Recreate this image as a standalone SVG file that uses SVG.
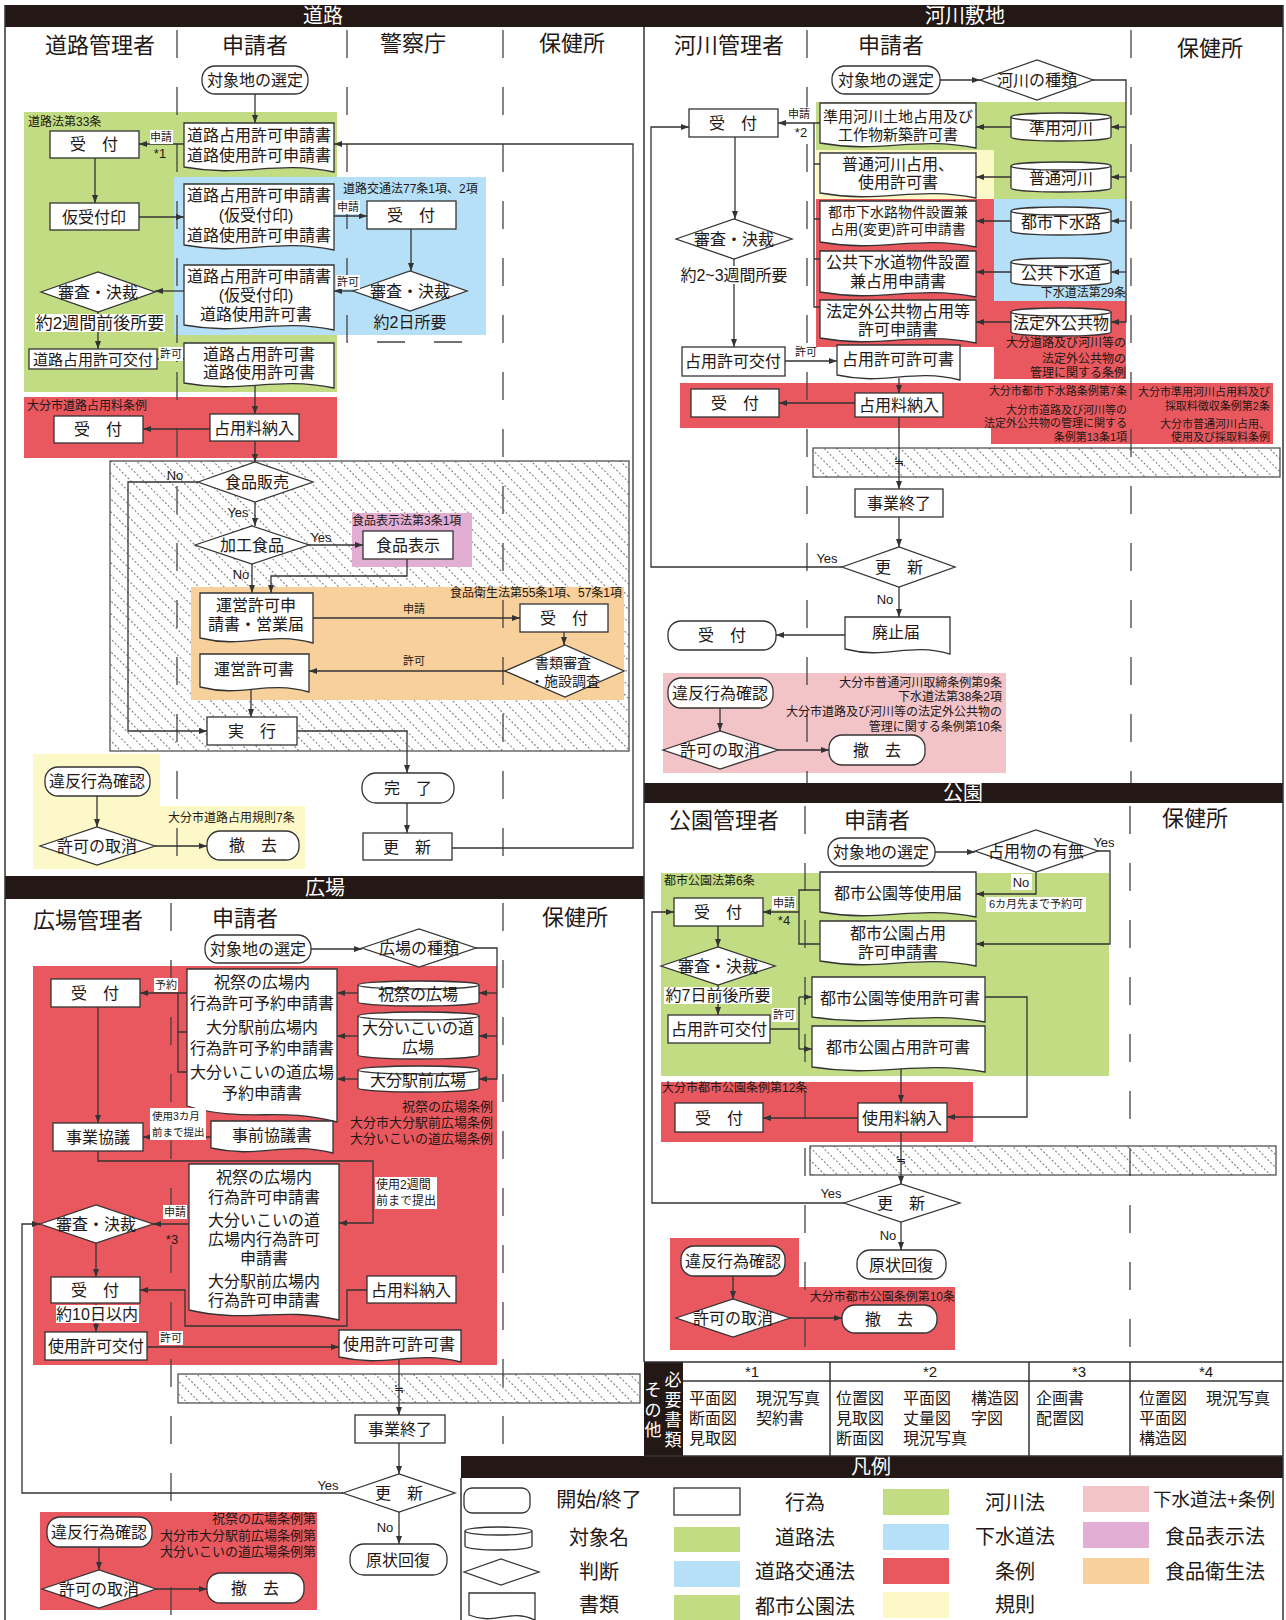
<svg xmlns="http://www.w3.org/2000/svg" width="1286" height="1620" viewBox="0 0 1286 1620">
<defs>
<style>
text{font-family:"Liberation Sans","Noto Sans CJK JP","Noto Sans CJK SC",sans-serif;fill:#231815;text-anchor:middle;dominant-baseline:central}
.t{font-size:16px}
.t17{font-size:17px}
.t15{font-size:15px}
.t14{font-size:14px}
.hd{font-size:22px}
.sec{font-size:20px;fill:#fff}
.lg{font-size:20px}
.lg19{font-size:18.5px}
.law{font-size:12px}
.l13{font-size:13px}
.sm{font-size:11px}
.xs{font-size:10.5px}
.yn{font-size:13px}
.st{text-anchor:start}
.en{text-anchor:end}
.c{fill:none;stroke:#333;stroke-width:1.3}
.a{marker-end:url(#ah)}
.n{fill:#fff;stroke:#333;stroke-width:1.3}
.dl{fill:none;stroke:#444;stroke-width:1.3;stroke-dasharray:28 29}
.fr{fill:none;stroke:#333;stroke-width:1.5}
.bk{fill:#231815}
.g{fill:#c1dc82}.b{fill:#b6e0f7}.r{fill:#e8585e}.y{fill:#fdf8c8}.p{fill:#f2c3c7}.v{fill:#e2aed3}.o{fill:#f8d09c}
.h{fill:url(#hatch);stroke:#444;stroke-width:1.2}
.wb{fill:#fff}
.vt{font-size:17px;fill:#fff}
</style>
<marker id="ah" viewBox="0 0 8 6" refX="8" refY="3" markerWidth="8" markerHeight="6" markerUnits="userSpaceOnUse" orient="auto"><path d="M0,0L8,3L0,6Z" fill="#333"/></marker>
<pattern id="hatch" patternUnits="userSpaceOnUse" width="9" height="8" patternTransform="rotate(-45)"><line x1="4.5" y1="0" x2="4.5" y2="8" stroke="#666" stroke-width="0.9" stroke-dasharray="2 2"/></pattern>
</defs>
<rect width="1286" height="1620" fill="#fff"/>

<!-- backgrounds -->
<g id="backgrounds">
<rect class="g" x="24" y="112" width="313" height="280"/>
<rect class="b" x="174" y="177" width="312" height="158"/>
<rect class="r" x="24" y="397" width="313" height="61"/>
<rect class="h" x="110" y="461" width="519" height="290"/>
<rect class="v" x="352" y="513" width="120" height="54"/>
<rect class="o" x="191" y="587" width="433" height="113"/>
<path class="y" d="M33,754H160V806H305V869H33Z"/>
<rect class="r" x="33" y="966" width="464" height="399"/>
<rect class="h" x="178" y="1374" width="462" height="29"/>
<rect class="r" x="40" y="1512" width="277" height="98"/>
<path class="g" d="M816,102H1126V199H994V150H816Z"/>
<rect class="y" x="816" y="150" width="178" height="49"/>
<rect class="b" x="994" y="199" width="132" height="102"/>
<path class="r" d="M816,199H994V301H1126V379H994V347H816Z"/>
<path class="r" d="M680,383H1273V444H991V428H680Z"/>
<rect class="h" x="813" y="448" width="467" height="29"/>
<rect class="p" x="663" y="673" width="343" height="100"/>
<rect class="g" x="661" y="873" width="448" height="203"/>
<rect class="r" x="661" y="1082" width="312" height="60"/>
<rect class="h" x="810" y="1146" width="466" height="29"/>
<path class="r" d="M670,1238H799V1287H955V1350H670Z"/>
</g>

<!-- frame -->
<g id="frame">
<rect class="bk" x="5" y="5" width="1278" height="22"/>
<rect class="bk" x="5" y="876" width="639" height="23"/>
<rect class="bk" x="644" y="783" width="639" height="20"/>
<rect class="bk" x="461" y="1456" width="822" height="22"/>
<rect class="bk" x="644" y="1362" width="39" height="94"/>
<path class="fr" d="M5,5V1620M1283,5V1620M644,27V1362M644,1362H1283M683,1381H1283M644,1456H1283M830,1362V1456M1029,1362V1456M1130,1362V1456M461,1478V1620"/>
<text class="sec" x="323" y="16">道路</text>
<text class="sec" x="965" y="16">河川敷地</text>
<text class="sec" x="325" y="888">広場</text>
<text class="sec" x="963" y="793">公園</text>
<text class="sec" x="871" y="1467">凡例</text>
<path class="dl" d="M177,30V876M347,30V342H487M503,30V876"/>
<path class="dl" d="M171,903V1620M503,903V1456"/>
<path class="dl" d="M807,30V783M1131,30V783"/>
<path class="dl" d="M805,806V1362M1130,806V1362"/>
</g>

<!-- lane headers and law labels -->
<g id="labels">
<text class="hd" x="100" y="45">道路管理者</text>
<text class="hd" x="255" y="45">申請者</text>
<text class="hd" x="413" y="43">警察庁</text>
<text class="hd" x="572" y="43">保健所</text>
<text class="hd" x="729" y="45">河川管理者</text>
<text class="hd" x="891" y="45">申請者</text>
<text class="hd" x="1210" y="48">保健所</text>
<text class="hd" x="88" y="920">広場管理者</text>
<text class="hd" x="245" y="918">申請者</text>
<text class="hd" x="575" y="917">保健所</text>
<text class="hd" x="724" y="820">公園管理者</text>
<text class="hd" x="877" y="820">申請者</text>
<text class="hd" x="1195" y="818">保健所</text>

<text class="law st" x="28" y="122">道路法第33条</text>
<text class="law st" x="343" y="189">道路交通法77条1項、2項</text>
<text class="law st" x="27" y="406">大分市道路占用料条例</text>
<text class="law st" x="352" y="521">食品表示法第3条1項</text>
<text class="law en" x="622" y="593">食品衛生法第55条1項、57条1項</text>
<text class="law st" x="168" y="818">大分市道路占用規則7条</text>

<text class="l13 en" x="493" y="1106">祝祭の広場条例</text>
<text class="l13 en" x="493" y="1122">大分市大分駅前広場条例</text>
<text class="l13 en" x="493" y="1138">大分いこいの道広場条例</text>
<text class="l13 en" x="316" y="1518">祝祭の広場条例第</text>
<text class="l13 en" x="316" y="1535">大分市大分駅前広場条例第</text>
<text class="l13 en" x="316" y="1551">大分いこいの道広場条例第</text>

<text class="law en" x="1126" y="293">下水道法第29条</text>
<text class="law en" x="1126" y="343">大分道路及び河川等の</text>
<text class="law en" x="1126" y="359">法定外公共物の</text>
<text class="law en" x="1126" y="373">管理に関する条例</text>
<text class="sm en" x="1127" y="391">大分市都市下水路条例第7条</text>
<text class="sm en" x="1127" y="410">大分市道路及び河川等の</text>
<text class="sm en" x="1127" y="423">法定外公共物の管理に関する</text>
<text class="sm en" x="1127" y="437">条例第13条1項</text>
<text class="sm en" x="1270" y="392">大分市準用河川占用料及び</text>
<text class="sm en" x="1270" y="406">採取料徴収条例第2条</text>
<text class="sm en" x="1270" y="424">大分市普通河川占用、</text>
<text class="sm en" x="1270" y="437">使用及び採取料条例</text>
<text class="law en" x="1002" y="683">大分市普通河川取締条例第9条</text>
<text class="law en" x="1002" y="697">下水道法第38条2項</text>
<text class="law en" x="1002" y="712">大分市道路及び河川等の法定外公共物の</text>
<text class="law en" x="1002" y="727">管理に関する条例第10条</text>

<text class="law st" x="664" y="881">都市公園法第6条</text>
<text class="law st" x="662" y="1088">大分市都市公園条例第12条</text>
<text class="law en" x="955" y="1297">大分市都市公園条例第10条</text>
</g>

<!-- connectors -->
<g id="connectors">
<path class="c a" d="M255,94V123"/>
<path class="c a" d="M184,144H139"/>
<path class="c a" d="M452,848H633V144H334"/>
<path class="c a" d="M95,158V203"/>
<path class="c a" d="M139,217H184"/>
<path class="c a" d="M334,216H367"/>
<path class="c a" d="M411,229V271"/>
<path class="c a" d="M353,291H334"/>
<path class="c a" d="M184,291H155"/>
<path class="c a" d="M98,312V349"/>
<path class="c a" d="M157,359H184"/>
<path class="c a" d="M255,385V414"/>
<path class="c a" d="M210,429H143"/>
<path class="c a" d="M255,441V462"/>
<path class="c a" d="M198,482H128V731H207"/>
<path class="c a" d="M255,502V526"/>
<path class="c a" d="M309,545H363"/>
<path class="c a" d="M252,564V593"/>
<path class="c a" d="M407,559V576H271V593"/>
<path class="c a" d="M313,618H520"/>
<path class="c a" d="M564,632V645"/>
<path class="c a" d="M505,671H309"/>
<path class="c a" d="M251,689V717"/>
<path class="c a" d="M297,731H407V773"/>
<path class="c a" d="M407,803V833"/>
<path class="c a" d="M97,796V827"/>
<path class="c a" d="M155,846H207"/>

<path class="c a" d="M311,949H362"/>
<path class="c a" d="M476,948H497V1079H479"/>
<path class="c a" d="M497,993H479"/>
<path class="c a" d="M497,1036H479"/>
<path class="c a" d="M358,993H337"/>
<path class="c a" d="M358,1036H337"/>
<path class="c a" d="M358,1079H337"/>
<path class="c a" d="M187,993H140"/>
<path class="c" d="M178,993V1072H187M178,1032H187"/>
<path class="c a" d="M98,1007V1123"/>
<path class="c a" d="M211,1137H143"/>
<path class="c a" d="M98,1151V1161H373V1223H339"/>
<path class="c a" d="M189,1224H153"/>
<path class="c a" d="M96,1243V1277"/>
<path class="c a" d="M367,1290H347V1326H185V1290H140"/>
<path class="c a" d="M96,1303V1332"/>
<path class="c a" d="M147,1347H339"/>
<path class="c a" d="M399,1358V1415"/>
<path class="c a" d="M399,1443V1474"/>
<path class="c a" d="M343,1493H22V1224H40"/>
<path class="c a" d="M399,1512V1544"/>
<path class="c a" d="M99,1547V1570"/>
<path class="c a" d="M156,1589H207"/>

<path class="c a" d="M940,80H980"/>
<path class="c a" d="M1093,80H1126V322H1111"/>
<path class="c a" d="M1126,127H1111"/>
<path class="c a" d="M1126,177H1111"/>
<path class="c a" d="M1126,221H1111"/>
<path class="c a" d="M1126,272H1111"/>
<path class="c a" d="M1011,127H976"/>
<path class="c a" d="M1011,177H976"/>
<path class="c a" d="M1011,221H976"/>
<path class="c a" d="M1011,272H976"/>
<path class="c a" d="M1011,322H976"/>
<path class="c a" d="M820,123H778"/>
<path class="c" d="M814,123V307H820M814,164H820M814,219H820M814,259H820"/>
<path class="c a" d="M735,137V219"/>
<path class="c a" d="M734,259V347"/>
<path class="c a" d="M785,361H837"/>
<path class="c a" d="M899,378V393"/>
<path class="c a" d="M855,403H779"/>
<path class="c a" d="M899,417V489"/>
<path class="c a" d="M899,517V547"/>
<path class="c a" d="M842,567H651V127H689"/>
<path class="c a" d="M899,587V617"/>
<path class="c a" d="M845,635H776"/>
<path class="c a" d="M720,708V731"/>
<path class="c a" d="M778,750H829"/>

<path class="c a" d="M935,852H975"/>
<path class="c a" d="M1098,851H1110V944H976"/>
<path class="c a" d="M1036,872V894H976"/>
<path class="c" d="M820,890H799V944H820"/>
<path class="c a" d="M799,912H763"/>
<path class="c a" d="M718,926V947"/>
<path class="c a" d="M718,985V1015"/>
<path class="c" d="M770,1029H799M799,997V1049"/>
<path class="c a" d="M799,997H812"/>
<path class="c a" d="M799,1049H812"/>
<path class="c a" d="M985,997H1027V1117H947"/>
<path class="c a" d="M901,1068V1103"/>
<path class="c a" d="M858,1118H763"/>
<path class="c a" d="M901,1132V1184"/>
<path class="c a" d="M844,1203H652V912H674"/>
<path class="c a" d="M901,1222V1250"/>
<path class="c a" d="M733,1276V1299"/>
<path class="c a" d="M790,1318H842"/>
</g>

<!-- 道路 nodes -->
<g id="r-start"><rect class="n" x="202" y="66" width="106" height="28" rx="13"/><text class="t" x="255" y="80">対象地の選定</text></g>
<g id="r-doc1"><path class="n" d="M184,123H334V172C274,160 244,178 184,167Z"/><text class="t" x="259" y="135">道路占用許可申請書</text><text class="t" x="259" y="155">道路使用許可申請書</text></g>
<g id="r-uketsuke1"><rect class="n" x="50" y="131" width="89" height="27"/><text class="t" x="94" y="144">受　付</text></g>
<g id="r-karistamp"><rect class="n" x="50" y="203" width="89" height="27"/><text class="t" x="94" y="217">仮受付印</text></g>
<g id="r-doc2"><path class="n" d="M184,184H334V250C274,238 244,256 184,245Z"/><text class="t" x="259" y="195">道路占用許可申請書</text><text class="t" x="256" y="215">(仮受付印)</text><text class="t" x="259" y="235">道路使用許可申請書</text></g>
<g id="r-police-uketsuke"><rect class="n" x="367" y="201" width="89" height="28"/><text class="t" x="411" y="215">受　付</text></g>
<g id="r-police-decision"><polygon class="n" points="353,291 410,271 467,291 410,311"/><text class="t" x="410" y="291">審査・決裁</text><text class="t" x="410" y="322">約2日所要</text></g>
<g id="r-doc3"><path class="n" d="M184,265H334V330C274,318 244,336 184,325Z"/><text class="t" x="259" y="276">道路占用許可申請書</text><text class="t" x="256" y="295">(仮受付印)</text><text class="t" x="256" y="314">道路使用許可書</text></g>
<g id="r-decision"><polygon class="n" points="41,292 98,272 155,292 98,312"/><text class="t" x="98" y="292">審査・決裁</text></g>
<g id="r-issue"><rect class="n" x="29" y="349" width="128" height="20"/><text class="t15" x="93" y="359">道路占用許可交付</text></g>
<g id="r-doc4"><path class="n" d="M184,343H334V388C274,376 244,394 184,383Z"/><text class="t" x="259" y="354">道路占用許可書</text><text class="t" x="259" y="372">道路使用許可書</text></g>
<g id="r-uketsuke2"><rect class="n" x="54" y="416" width="89" height="27"/><text class="t" x="98" y="429">受　付</text></g>
<g id="r-fee"><rect class="n" x="210" y="414" width="89" height="27"/><text class="t" x="254" y="428">占用料納入</text></g>
<g id="r-foodsale"><polygon class="n" points="198,482 255,462 313,482 255,502"/><text class="t" x="257" y="482">食品販売</text></g>
<g id="r-processed"><polygon class="n" points="195,545 252,526 309,545 252,564"/><text class="t" x="252" y="545">加工食品</text></g>
<g id="r-foodlabel"><rect class="n" x="363" y="531" width="90" height="28"/><text class="t" x="408" y="545">食品表示</text></g>
<g id="r-doc5"><path class="n" d="M200,593H313V643C268,631 245,649 200,638Z"/><text class="t" x="256" y="605">運営許可申</text><text class="t" x="256" y="624">請書・営業届</text></g>
<g id="r-health-uketsuke"><rect class="n" x="520" y="604" width="88" height="28"/><text class="t" x="564" y="618">受　付</text></g>
<g id="r-inspect"><polygon class="n" points="505,671 565,645 624,671 565,697"/><text class="t14" x="563" y="663">書類審査</text><text class="t14" x="565" y="681">・施設調査</text></g>
<g id="r-doc6"><path class="n" d="M200,654H309V692C265,680 244,698 200,687Z"/><text class="t" x="254" y="669">運営許可書</text></g>
<g id="r-exec"><rect class="n" x="207" y="717" width="90" height="28"/><text class="t" x="252" y="731">実　行</text></g>
<g id="r-done"><rect class="n" x="362" y="773" width="92" height="30" rx="14"/><text class="t" x="408" y="788">完　了</text></g>
<g id="r-renew"><rect class="n" x="363" y="833" width="89" height="27"/><text class="t" x="407" y="847">更　新</text></g>
<g id="r-violation"><rect class="n" x="45" y="767" width="105" height="29" rx="13"/><text class="t" x="97" y="781">違反行為確認</text></g>
<g id="r-cancel"><polygon class="n" points="40,846 97,827 155,846 97,865"/><text class="t" x="97" y="846">許可の取消</text></g>
<g id="r-remove"><rect class="n" x="207" y="831" width="92" height="29" rx="13"/><text class="t" x="253" y="845">撤　去</text></g>

<!-- 広場 nodes -->
<g id="s-start"><rect class="n" x="205" y="935" width="106" height="28" rx="13"/><text class="t" x="258" y="949">対象地の選定</text></g>
<g id="s-kind"><polygon class="n" points="362,948 419,929 476,948 419,967"/><text class="t" x="419" y="948">広場の種類</text></g>
<g id="s-cyl1"><path class="n" d="M358,985A60.5,4 0 0 1 479,985V1002A60.5,4 0 0 1 358,1002Z"/><path class="c" d="M358,985A60.5,4 0 0 0 479,985"/><text class="t" x="418" y="994">祝祭の広場</text></g>
<g id="s-cyl2"><path class="n" d="M358,1016A60.5,4 0 0 1 479,1016V1055A60.5,4 0 0 1 358,1055Z"/><path class="c" d="M358,1016A60.5,4 0 0 0 479,1016"/><text class="t" x="418" y="1028">大分いこいの道</text><text class="t" x="418" y="1047">広場</text></g>
<g id="s-cyl3"><path class="n" d="M358,1070A60.5,4 0 0 1 479,1070V1088A60.5,4 0 0 1 358,1088Z"/><path class="c" d="M358,1070A60.5,4 0 0 0 479,1070"/><text class="t" x="418" y="1080">大分駅前広場</text></g>
<g id="s-doc-reserve"><path class="n" d="M187,969H337V1122C277,1106 247,1124 187,1106Z"/><text class="t" x="262" y="982">祝祭の広場内</text><text class="t" x="262" y="1003">行為許可予約申請書</text><text class="t" x="262" y="1027">大分駅前広場内</text><text class="t" x="262" y="1048">行為許可予約申請書</text><text class="t" x="262" y="1072">大分いこいの道広場</text><text class="t" x="262" y="1093">予約申請書</text></g>
<g id="s-uketsuke1"><rect class="n" x="51" y="979" width="89" height="28"/><text class="t" x="95" y="993">受　付</text></g>
<g id="s-consult"><rect class="n" x="53" y="1123" width="90" height="28"/><text class="t" x="98" y="1137">事業協議</text></g>
<g id="s-doc-consult"><path class="n" d="M211,1121H333V1153C284,1141 260,1159 211,1148Z"/><text class="t" x="272" y="1135">事前協議書</text></g>
<g id="s-doc-apply"><path class="n" d="M189,1164H339V1320C279,1306 249,1324 189,1310Z"/><text class="t" x="264" y="1177">祝祭の広場内</text><text class="t" x="264" y="1197">行為許可申請書</text><text class="t" x="264" y="1220">大分いこいの道</text><text class="t" x="264" y="1239">広場内行為許可</text><text class="t" x="264" y="1258">申請書</text><text class="t" x="264" y="1281">大分駅前広場内</text><text class="t" x="264" y="1300">行為許可申請書</text></g>
<g id="s-decision"><polygon class="n" points="40,1224 96,1205 153,1224 96,1243"/><text class="t" x="96" y="1224">審査・決裁</text></g>
<g id="s-uketsuke2"><rect class="n" x="51" y="1277" width="89" height="26"/><text class="t" x="95" y="1290">受　付</text></g>
<g id="s-fee"><rect class="n" x="367" y="1276" width="89" height="27"/><text class="t" x="411" y="1290">占用料納入</text></g>
<g id="s-issue"><rect class="n" x="45" y="1332" width="102" height="28"/><text class="t" x="96" y="1346">使用許可交付</text></g>
<g id="s-doc-permit"><path class="n" d="M339,1330H461V1362C412,1350 388,1368 339,1357Z"/><text class="t" x="399" y="1344">使用許可許可書</text></g>
<g id="s-end"><rect class="n" x="355" y="1415" width="90" height="28"/><text class="t" x="400" y="1429">事業終了</text></g>
<g id="s-renew"><polygon class="n" points="343,1493 399,1474 455,1493 399,1512"/><text class="t" x="399" y="1493">更　新</text></g>
<g id="s-restore"><rect class="n" x="350" y="1544" width="97" height="31" rx="14"/><text class="t" x="398" y="1560">原状回復</text></g>
<g id="s-violation"><rect class="n" x="47" y="1517" width="105" height="30" rx="13"/><text class="t" x="99" y="1532">違反行為確認</text></g>
<g id="s-cancel"><polygon class="n" points="42,1589 99,1570 156,1589 99,1608"/><text class="t" x="99" y="1589">許可の取消</text></g>
<g id="s-remove"><rect class="n" x="207" y="1573" width="97" height="30" rx="13"/><text class="t" x="255" y="1588">撤　去</text></g>

<!-- 河川 nodes -->
<g id="k-start"><rect class="n" x="832" y="66" width="108" height="28" rx="13"/><text class="t" x="886" y="80">対象地の選定</text></g>
<g id="k-kind"><polygon class="n" points="980,80 1037,60 1093,80 1037,100"/><text class="t" x="1037" y="80">河川の種類</text></g>
<g id="k-cyl1"><path class="n" d="M1011,117A50,4 0 0 1 1111,117V137A50,4 0 0 1 1011,137Z"/><path class="c" d="M1011,117A50,4 0 0 0 1111,117"/><text class="t" x="1061" y="128">準用河川</text></g>
<g id="k-cyl2"><path class="n" d="M1011,166A50,4 0 0 1 1111,166V188A50,4 0 0 1 1011,188Z"/><path class="c" d="M1011,166A50,4 0 0 0 1111,166"/><text class="t" x="1061" y="178">普通河川</text></g>
<g id="k-cyl3"><path class="n" d="M1011,211A50,4 0 0 1 1111,211V231A50,4 0 0 1 1011,231Z"/><path class="c" d="M1011,211A50,4 0 0 0 1111,211"/><text class="t" x="1061" y="222">都市下水路</text></g>
<g id="k-cyl4"><path class="n" d="M1011,262A50,4 0 0 1 1111,262V282A50,4 0 0 1 1011,282Z"/><path class="c" d="M1011,262A50,4 0 0 0 1111,262"/><text class="t" x="1061" y="273">公共下水道</text></g>
<g id="k-cyl5"><path class="n" d="M1011,312A50,4 0 0 1 1111,312V332A50,4 0 0 1 1011,332Z"/><path class="c" d="M1011,312A50,4 0 0 0 1111,312"/><text class="t" x="1061" y="323">法定外公共物</text></g>
<g id="k-doc1"><path class="n" d="M820,103H976V148C914,136 882,154 820,143Z"/><text class="t15" x="898" y="116">準用河川土地占用及び</text><text class="t15" x="898" y="134">工作物新築許可書</text></g>
<g id="k-doc2"><path class="n" d="M820,153H976V198C914,186 882,204 820,193Z"/><text class="t" x="898" y="164">普通河川占用、</text><text class="t" x="898" y="182">使用許可書</text></g>
<g id="k-doc3"><path class="n" d="M820,201H976V247C914,235 882,253 820,242Z"/><text class="t14" x="898" y="212">都市下水路物件設置兼</text><text class="t14" x="898" y="229">占用(変更)許可申請書</text></g>
<g id="k-doc4"><path class="n" d="M820,251H976V297C914,285 882,303 820,292Z"/><text class="t" x="898" y="262">公共下水道物件設置</text><text class="t" x="898" y="281">兼占用申請書</text></g>
<g id="k-doc5"><path class="n" d="M820,300H976V343C914,331 882,349 820,338Z"/><text class="t" x="898" y="311">法定外公共物占用等</text><text class="t" x="898" y="329">許可申請書</text></g>
<g id="k-doc6"><path class="n" d="M837,345H960V380C911,368 886,386 837,375Z"/><text class="t" x="898" y="359">占用許可許可書</text></g>
<g id="k-uketsuke1"><rect class="n" x="689" y="109" width="89" height="28"/><text class="t" x="733" y="123">受　付</text></g>
<g id="k-decision"><polygon class="n" points="676,239 734,219 792,239 734,259"/><text class="t" x="734" y="239">審査・決裁</text></g>
<g id="k-issue"><rect class="n" x="682" y="347" width="103" height="29"/><text class="t" x="733" y="361">占用許可交付</text></g>
<g id="k-uketsuke2"><rect class="n" x="691" y="389" width="88" height="28"/><text class="t" x="735" y="403">受　付</text></g>
<g id="k-fee"><rect class="n" x="855" y="393" width="88" height="24"/><text class="t" x="899" y="405">占用料納入</text></g>
<g id="k-end"><rect class="n" x="855" y="489" width="88" height="28"/><text class="t" x="899" y="503">事業終了</text></g>
<g id="k-renew"><polygon class="n" points="842,567 899,547 955,567 899,587"/><text class="t" x="899" y="567">更　新</text></g>
<g id="k-abolish"><path class="n" d="M845,617H950V654C908,642 887,660 845,649Z"/><text class="t" x="896" y="632">廃止届</text></g>
<g id="k-uketsuke3"><rect class="n" x="668" y="621" width="108" height="29" rx="13"/><text class="t" x="722" y="635">受　付</text></g>
<g id="k-violation"><rect class="n" x="668" y="678" width="105" height="30" rx="13"/><text class="t" x="720" y="693">違反行為確認</text></g>
<g id="k-cancel"><polygon class="n" points="663,750 720,731 778,750 720,769"/><text class="t" x="720" y="750">許可の取消</text></g>
<g id="k-remove"><rect class="n" x="829" y="735" width="96" height="30" rx="13"/><text class="t" x="877" y="750">撤　去</text></g>

<!-- 公園 nodes -->
<g id="p-start"><rect class="n" x="828" y="838" width="107" height="28" rx="13"/><text class="t" x="881" y="852">対象地の選定</text></g>
<g id="p-exist"><polygon class="n" points="975,851 1036,830 1098,851 1036,872"/><text class="t" x="1036" y="851">占用物の有無</text></g>
<g id="p-doc1"><path class="n" d="M820,872H976V917C914,905 882,923 820,912Z"/><text class="t" x="898" y="893">都市公園等使用届</text></g>
<g id="p-doc2"><path class="n" d="M820,921H976V966C914,954 882,972 820,961Z"/><text class="t" x="898" y="933">都市公園占用</text><text class="t" x="898" y="952">許可申請書</text></g>
<g id="p-doc3"><path class="n" d="M812,977H985V1022C916,1010 881,1028 812,1017Z"/><text class="t" x="900" y="998">都市公園等使用許可書</text></g>
<g id="p-doc4"><path class="n" d="M812,1026H985V1072C916,1060 881,1078 812,1067Z"/><text class="t" x="898" y="1047">都市公園占用許可書</text></g>
<g id="p-uketsuke1"><rect class="n" x="674" y="898" width="89" height="28"/><text class="t" x="718" y="912">受　付</text></g>
<g id="p-decision"><polygon class="n" points="661,966 718,947 775,966 718,985"/><text class="t" x="718" y="966">審査・決裁</text></g>
<g id="p-issue"><rect class="n" x="668" y="1015" width="102" height="28"/><text class="t" x="719" y="1029">占用許可交付</text></g>
<g id="p-fee"><rect class="n" x="858" y="1103" width="89" height="29"/><text class="t" x="902" y="1118">使用料納入</text></g>
<g id="p-uketsuke2"><rect class="n" x="675" y="1103" width="88" height="29"/><text class="t" x="719" y="1118">受　付</text></g>
<g id="p-renew"><polygon class="n" points="844,1203 901,1184 960,1203 901,1222"/><text class="t" x="901" y="1203">更　新</text></g>
<g id="p-restore"><rect class="n" x="857" y="1250" width="89" height="29" rx="13"/><text class="t" x="901" y="1265">原状回復</text></g>
<g id="p-violation"><rect class="n" x="681" y="1246" width="104" height="30" rx="13"/><text class="t" x="733" y="1261">違反行為確認</text></g>
<g id="p-cancel"><polygon class="n" points="676,1318 733,1299 790,1318 733,1337"/><text class="t" x="733" y="1318">許可の取消</text></g>
<g id="p-remove"><rect class="n" x="842" y="1305" width="95" height="28" rx="13"/><text class="t" x="889" y="1319">撤　去</text></g>

<!-- connector labels -->
<g id="connector-labels">
<rect class="wb" x="150" y="130" width="23" height="14"/><text class="sm" x="161" y="137">申請</text>
<text class="l13" x="160" y="153">*1</text>
<rect class="wb" x="336" y="200" width="24" height="14"/><text class="sm" x="348" y="207">申請</text>
<rect class="wb" x="336" y="275" width="24" height="14"/><text class="sm" x="348" y="282">許可</text>
<rect class="wb" x="35" y="314" width="130" height="18"/><text class="t17" x="100" y="323">約2週間前後所要</text>
<rect class="wb" x="159" y="347" width="24" height="14"/><text class="sm" x="171" y="354">許可</text>
<text class="sm" x="414" y="609">申請</text>
<text class="sm" x="414" y="661">許可</text>
<text class="yn" x="175" y="475">No</text>
<text class="yn" x="238" y="512">Yes</text>
<text class="yn" x="321" y="537">Yes</text>
<text class="yn" x="241" y="574">No</text>

<rect class="wb" x="154" y="978" width="24" height="14"/><text class="sm" x="166" y="985">予約</text>
<rect class="wb" x="150" y="1108" width="56" height="32"/><text class="xs st" x="152" y="1116">使用3カ月</text><text class="xs st" x="152" y="1132">前まで提出</text>
<rect class="wb" x="375" y="1177" width="62" height="32"/><text class="law st" x="376" y="1185">使用2週間</text><text class="law st" x="376" y="1201">前まで提出</text>
<rect class="wb" x="163" y="1205" width="24" height="14"/><text class="sm" x="175" y="1212">申請</text>
<text class="l13" x="172" y="1239">*3</text>
<rect class="wb" x="56" y="1305" width="83" height="18"/><text class="t" x="97" y="1314">約10日以内</text>
<rect class="wb" x="159" y="1331" width="24" height="14"/><text class="sm" x="171" y="1338">許可</text>
<text class="yn" x="328" y="1485">Yes</text>
<text class="yn" x="385" y="1527">No</text>
<text class="law" x="399" y="1389">≒</text>

<rect class="wb" x="788" y="107" width="23" height="14"/><text class="sm" x="799" y="114">申請</text>
<text class="l13" x="801" y="132">*2</text>
<rect class="wb" x="673" y="266" width="122" height="18"/><text class="t" x="734" y="275">約2~3週間所要</text>
<text class="sm" x="806" y="352">許可</text>
<text class="law" x="899" y="462">≒</text>
<text class="yn" x="827" y="558">Yes</text>
<text class="yn" x="885" y="599">No</text>

<text class="yn" x="1104" y="842">Yes</text>
<rect class="wb" x="1011" y="874" width="21" height="16"/><text class="yn" x="1021" y="882">No</text>
<rect class="wb" x="986" y="897" width="100" height="15"/><text class="sm" x="1036" y="904">6カ月先まで予約可</text>
<rect class="wb" x="772" y="896" width="24" height="14"/><text class="sm" x="784" y="903">申請</text>
<text class="l13" x="784" y="920">*4</text>
<rect class="wb" x="664" y="987" width="108" height="17"/><text class="t" x="718" y="995">約7日前後所要</text>
<rect class="wb" x="772" y="1008" width="24" height="14"/><text class="sm" x="784" y="1015">許可</text>
<text class="law" x="901" y="1160">≒</text>
<text class="yn" x="831" y="1193">Yes</text>
<text class="yn" x="888" y="1235">No</text>
</g>

<!-- required documents table -->
<g id="table">
<text class="vt" x="673" y="1380">必</text><text class="vt" x="673" y="1400">要</text><text class="vt" x="673" y="1420">書</text><text class="vt" x="673" y="1440">類</text>
<text class="vt" x="653" y="1390">そ</text><text class="vt" x="653" y="1410">の</text><text class="vt" x="653" y="1430">他</text>
<text class="t15" x="752" y="1371">*1</text>
<text class="t15" x="930" y="1371">*2</text>
<text class="t15" x="1079" y="1371">*3</text>
<text class="t15" x="1206" y="1371">*4</text>
<text class="t st" x="689" y="1398">平面図</text><text class="t st" x="689" y="1418">断面図</text><text class="t st" x="689" y="1438">見取図</text>
<text class="t st" x="756" y="1398">現況写真</text><text class="t st" x="756" y="1418">契約書</text>
<text class="t st" x="836" y="1398">位置図</text><text class="t st" x="836" y="1418">見取図</text><text class="t st" x="836" y="1438">断面図</text>
<text class="t st" x="903" y="1398">平面図</text><text class="t st" x="903" y="1418">丈量図</text><text class="t st" x="903" y="1438">現況写真</text>
<text class="t st" x="971" y="1398">構造図</text><text class="t st" x="971" y="1418">字図</text>
<text class="t st" x="1036" y="1398">企画書</text><text class="t st" x="1036" y="1418">配置図</text>
<text class="t st" x="1139" y="1398">位置図</text><text class="t st" x="1139" y="1418">平面図</text><text class="t st" x="1139" y="1438">構造図</text>
<text class="t st" x="1206" y="1398">現況写真</text>
</g>

<!-- legend -->
<g id="legend">
<rect class="n" x="464" y="1488" width="66" height="25" rx="8"/>
<path class="n" d="M465,1531A33.5,4 0 0 1 532,1531V1546A33.5,4 0 0 1 465,1546Z"/><path class="c" d="M465,1531A33.5,4 0 0 0 532,1531"/>
<polygon class="n" points="464,1572 501,1559 539,1572 501,1585"/>
<path class="n" d="M469,1593H535V1620C509,1608 495,1626 469,1615Z"/>
<text class="lg" x="599" y="1500">開始/終了</text>
<text class="lg" x="599" y="1538">対象名</text>
<text class="lg" x="599" y="1572">判断</text>
<text class="lg" x="599" y="1605">書類</text>
<rect class="n" x="674" y="1488" width="66" height="27"/>
<rect class="g" x="674" y="1527" width="66" height="25"/>
<rect class="b" x="674" y="1561" width="66" height="26"/>
<rect class="g" x="674" y="1595" width="66" height="25"/>
<text class="lg" x="805" y="1503">行為</text>
<text class="lg" x="805" y="1538">道路法</text>
<text class="lg" x="805" y="1572">道路交通法</text>
<text class="lg" x="805" y="1607">都市公園法</text>
<rect class="g" x="883" y="1489" width="66" height="26"/>
<rect class="b" x="883" y="1524" width="66" height="26"/>
<rect class="r" x="883" y="1558" width="66" height="26"/>
<rect class="y" x="883" y="1592" width="66" height="26"/>
<text class="lg" x="1015" y="1503">河川法</text>
<text class="lg" x="1015" y="1537">下水道法</text>
<text class="lg" x="1015" y="1572">条例</text>
<text class="lg" x="1015" y="1605">規則</text>
<rect class="p" x="1083" y="1486" width="66" height="26"/>
<rect class="v" x="1083" y="1522" width="66" height="26"/>
<rect class="o" x="1083" y="1558" width="66" height="26"/>
<text class="lg19" x="1214" y="1499">下水道法+条例</text>
<text class="lg" x="1215" y="1537">食品表示法</text>
<text class="lg" x="1215" y="1572">食品衛生法</text>
</g>
</svg>
